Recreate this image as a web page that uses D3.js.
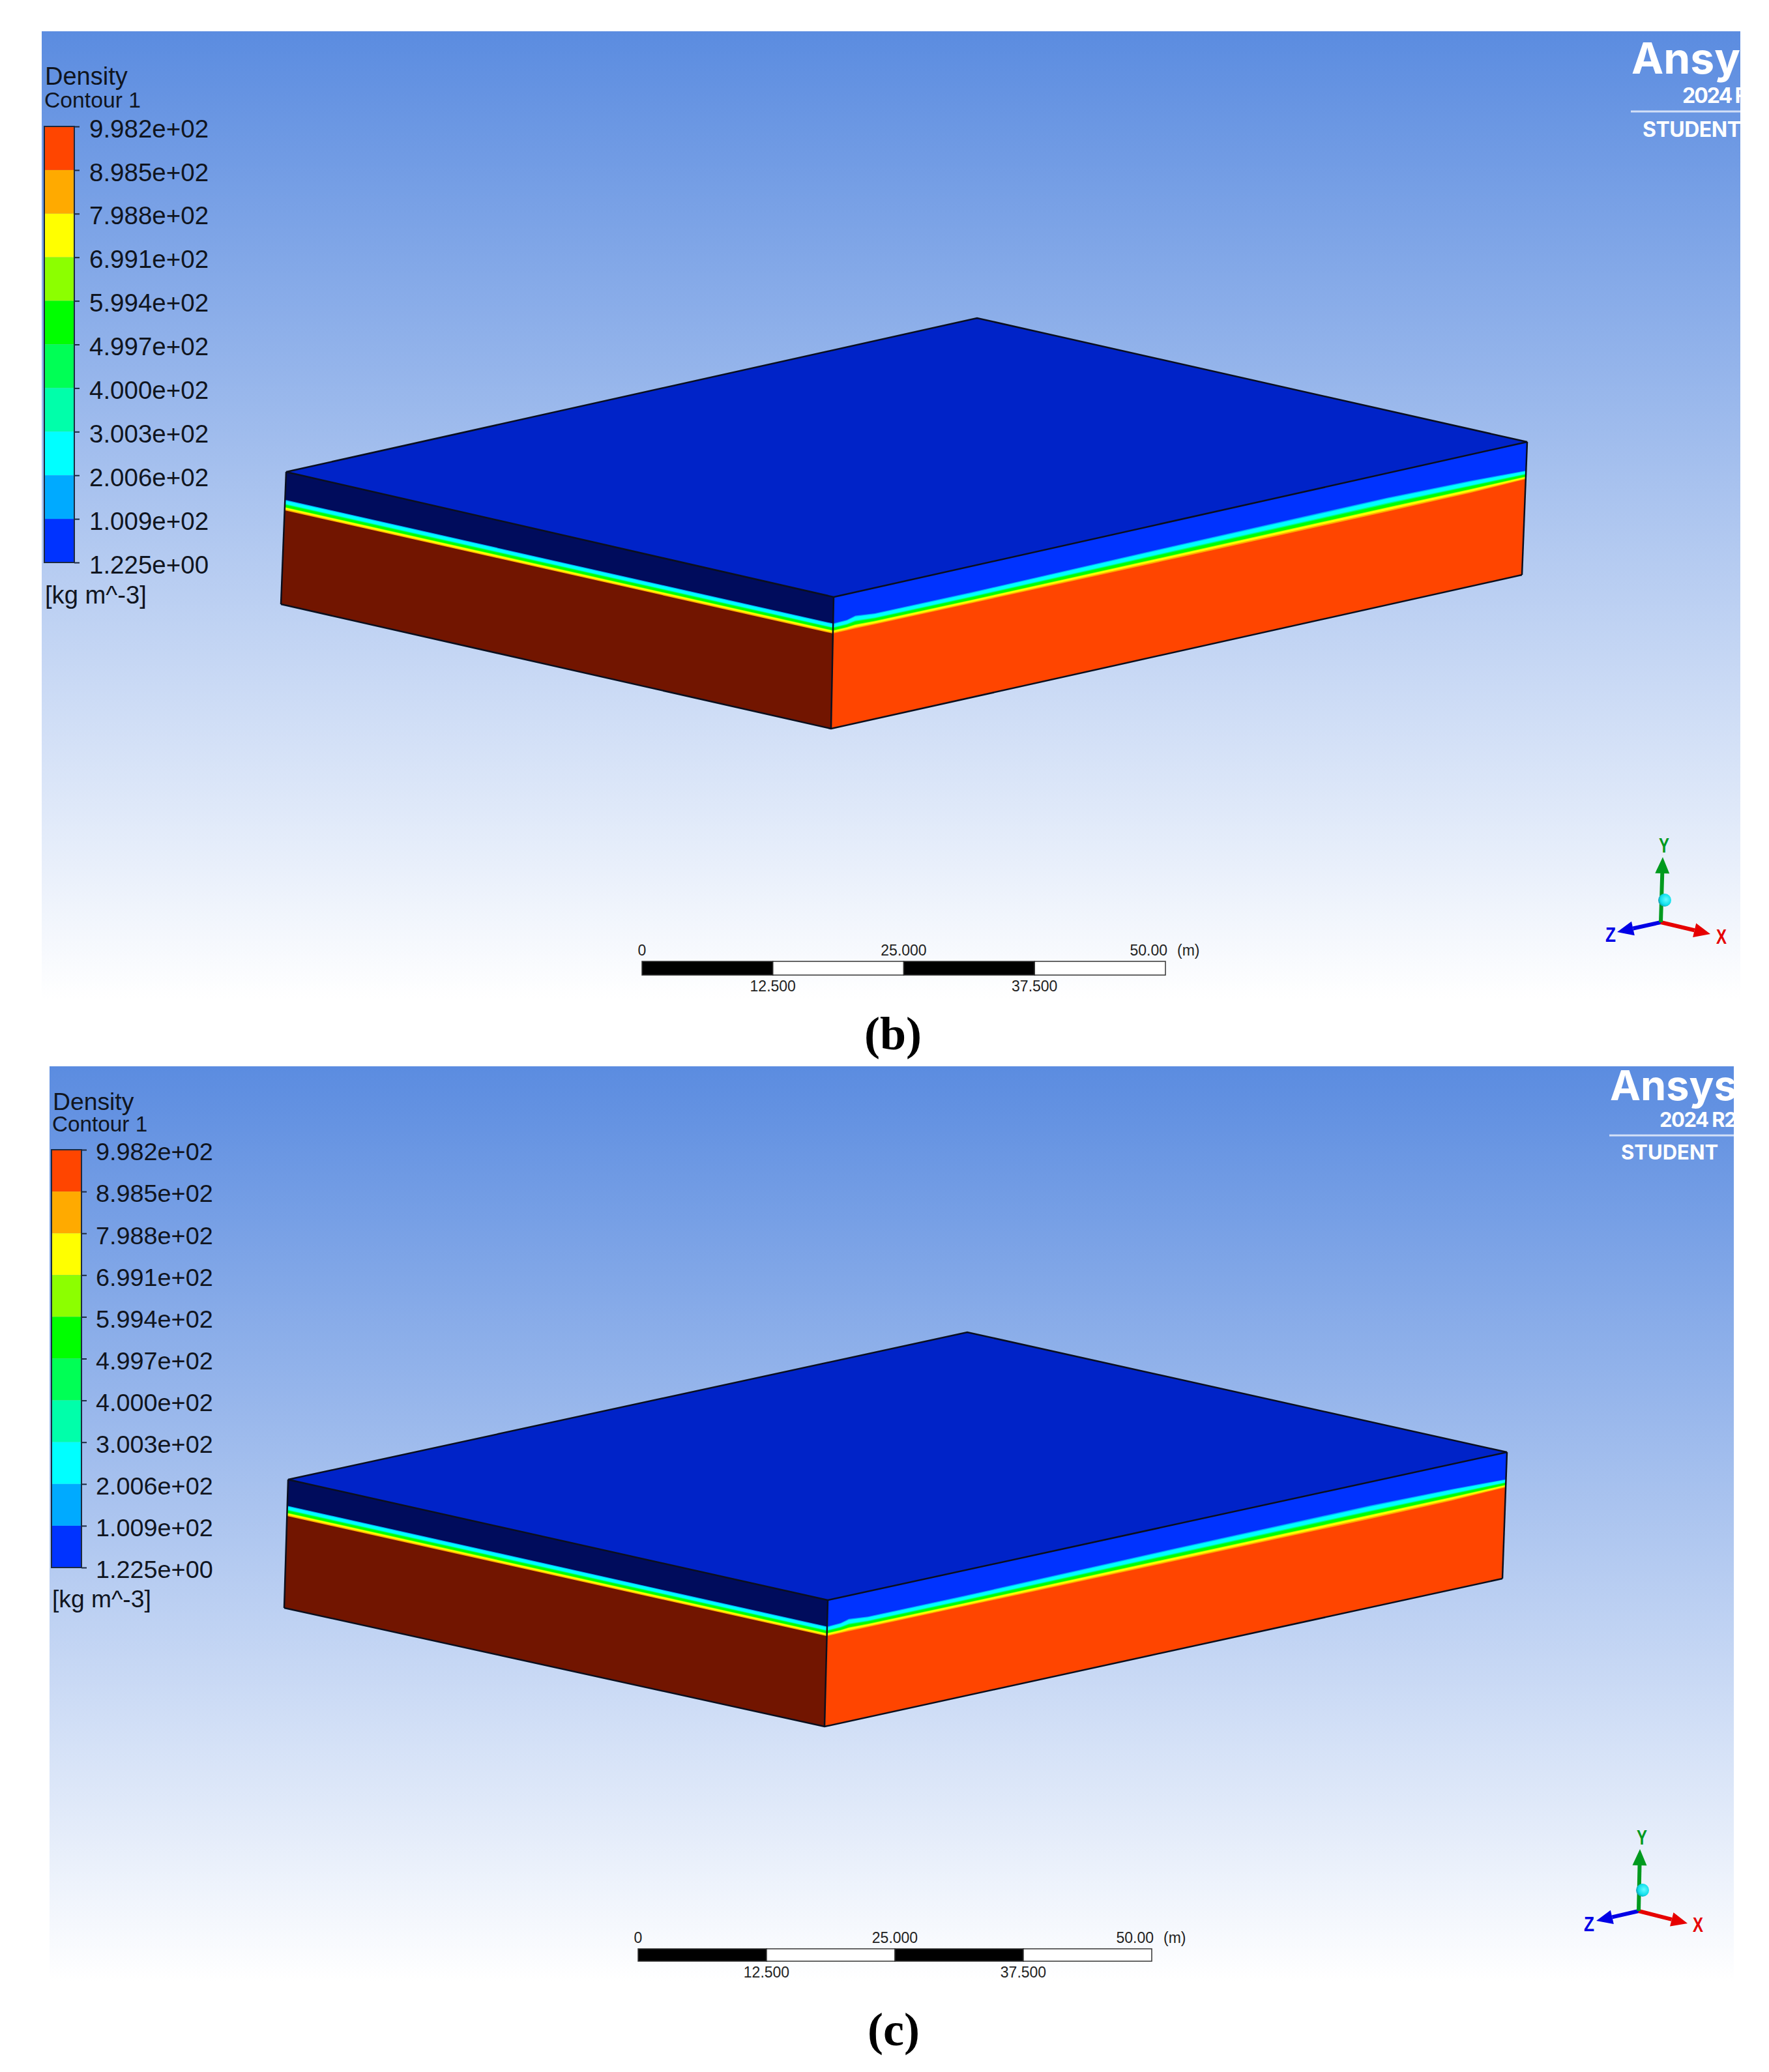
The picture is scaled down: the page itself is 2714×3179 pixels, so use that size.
<!DOCTYPE html>
<html>
<head>
<meta charset="utf-8">
<script src="https://cdn.jsdelivr.net/npm/d3@7"></script>
<style>
  html, body { margin: 0; padding: 0; background: #fff; }
  svg { display: block; }
  text { font-family: "Liberation Sans", Arial, sans-serif; }
</style>
</head>
<body>
<div id="chart"></div>
<script>
// Legend values, high to low
const densityLevels = [998.2, 898.5, 798.8, 699.1, 599.4, 499.7, 400.0, 300.3, 200.6, 100.9, 1.225];
const levelLabels = ["9.982e+02", "8.985e+02", "7.988e+02", "6.991e+02", "5.994e+02", "4.997e+02",
    "4.000e+02", "3.003e+02", "2.006e+02", "1.009e+02", "1.225e+00"];
const bandColors = ["#ff4500", "#ffaa00", "#ffff00", "#8cff00", "#00ff00", "#00ff55", "#00ffaa", "#00ffff", "#00aaff", "#0033ff"];
const leftBandColors = ["#721500", "#ffaa00", "#ffff00", "#8cff00", "#00ff00", "#00ff55", "#00ffaa", "#00ffff", "#00aaff", "#000c5c"];
const topFaceColor = "#0023c8";

// Scale bar
const scaleTicks = [0, 12.5, 25, 37.5, 50];
const scaleTickLabels = ["0", "12.500", "25.000", "37.500", "50.00"];

// Box size in metres
const boxLength = 100, boxDepth = 100, boxHeight = 10;

// Height above the water surface where each legend level is crossed (898.5 to 100.9)
const levelOffsets = [0, 0.08, 0.20, 0.24, 0.40, 0.44, 0.48, 0.70, 0.76];

// Water surface along the faces: distance from the front corner, height, interface stretch
const rightStations = [0, 2, 3.2, 6, 20, 50, 80, 92, 100];
const rightStretch = [1.0, 1.05, 1.3, 1.1, 1.1, 1.3, 1.4, 1.2, 0.85];
const rightSurfaceB = [7.23, 7.23, 7.23, 7.22, 7.18, 7.12, 7.08, 7.10, 7.20];
const rightSurfaceC = [7.15, 7.16, 7.16, 7.16, 7.14, 7.10, 7.06, 7.10, 7.22];
const leftStations = [0, 100];
const leftStretch = [1.0, 1.05];
const leftSurfaceB = [7.23, 7.09];
const leftSurfaceC = [7.15, 7.16];

const width = 2714, height = 3179;

const svg = d3.select("#chart").append("svg")
    .attr("width", width)
    .attr("height", height);

const defs = svg.append("defs");

const bgGradient = defs.append("linearGradient")
    .attr("id", "bg").attr("x1", 0).attr("x2", 0).attr("y1", 0).attr("y2", 1);
bgGradient.append("stop").attr("offset", "0%").attr("stop-color", "#5b8ce0");
bgGradient.append("stop").attr("offset", "100%").attr("stop-color", "#ffffff");

const ballGradient = defs.append("radialGradient")
    .attr("id", "ball").attr("cx", "60%").attr("cy", "45%").attr("r", "65%");
ballGradient.append("stop").attr("offset", "0%").attr("stop-color", "#66fbff");
ballGradient.append("stop").attr("offset", "65%").attr("stop-color", "#10e0ec");
ballGradient.append("stop").attr("offset", "100%").attr("stop-color", "#0f8a9c");

const panels = [
    {
        id: "b", rect: [64, 48, 2670, 1533],
        corners: { front: [1279, 916, 1275, 1118], right: [2343, 678, 2335, 882], left: [439, 724, 431, 927], back: [1499, 488] },
        rightSurface: rightSurfaceB, leftSurface: leftSurfaceB,
        legend: { x0: 68, x1: 114, y0: 194, y1: 863, fs: 38.5, pad: 15, title: [69, 130, 38], sub: [68, 165, 33.7], unit: [69, 926, 38.2] },
        logo: { ansys: [2503, 113, 66], release: [2581, 158, 32, -2, "2024 R2"], line: [2502, 171], student: [2520, 210, 32, -0.5] },
        bar: { x0: 985, x1: 1788, y0: 1475, y1: 1496, topY: 1466, botY: 1521, unitX: 1806 },
        caption: ["(b)", 1370, 1610],
        triad: { o: [2548, 1415], x: [76, 18], y: [3, -100], z: [-67, 15], ball: [6, -34], lx: [2641, 1437], ly: [2553, 1297], lz: [2471, 1434] }
    },
    {
        id: "c", rect: [76, 1636, 2660, 3040],
        corners: { front: [1270, 2455, 1265, 2649], right: [2312, 2228, 2305, 2422], left: [442, 2270, 436, 2467], back: [1484, 2044] },
        rightSurface: rightSurfaceC, leftSurface: leftSurfaceC,
        legend: { x0: 79, x1: 125, y0: 1764, y1: 2405, fs: 37.8, pad: 14, title: [81, 1703, 37.3], sub: [80, 1736, 33.3], unit: [80, 2466, 37.2] },
        logo: { ansys: [2470, 1688, 63], release: [2546, 1729, 31, -1.5, "2024 R2"], line: [2469, 1742], student: [2487, 1779, 31, 0] },
        bar: { x0: 979, x1: 1767, y0: 2990, y1: 3009, topY: 2981, botY: 3034, unitX: 1785 },
        caption: ["(c)", 1371, 3138],
        triad: { o: [2514, 2932], x: [75, 19], y: [2, -95], z: [-65, 15], ball: [6, -32], lx: [2605, 2953], ly: [2519, 2819], lz: [2438, 2952] }
    }
];

panels.forEach(function (p) {
    const [bx0, by0, bx1, by1] = p.rect;

    // Background and clip
    svg.append("rect")
        .attr("x", bx0).attr("y", by0)
        .attr("width", bx1 - bx0).attr("height", by1 - by0)
        .attr("fill", "url(#bg)");

    defs.append("clipPath").attr("id", "clip-" + p.id)
        .append("rect")
        .attr("x", bx0).attr("y", by0)
        .attr("width", bx1 - bx0).attr("height", by1 - by0);

    const g = svg.append("g").attr("clip-path", `url(#clip-${p.id})`);

    drawBox(g, p);
    drawLegend(g, p);
    drawLogo(g, p);
    drawScaleBar(g, p);
    drawTriad(g, p);

    // Caption under the panel
    svg.append("text")
        .attr("x", p.caption[1])
        .attr("y", p.caption[2])
        .attr("text-anchor", "middle")
        .style("font-family", '"Liberation Serif", serif')
        .style("font-weight", "bold")
        .style("font-size", "72px")
        .attr("fill", "#000")
        .text(p.caption[0]);
});

// Bilinear projection from box metres to page pixels
function makeProjection(c) {
    const u = d3.scaleLinear().domain([0, boxLength]).range([0, 1]);
    const v = d3.scaleLinear().domain([0, boxDepth]).range([0, 1]);
    const backBottom = [c.left[2] + c.right[2] - c.front[2], c.left[3] + c.right[3] - c.front[3]];

    function mix(a, b, cc, d, s, t) {
        return (a * (1 - s) + b * s) * (1 - t) + (cc * (1 - s) + d * s) * t;
    }

    return function (x, z, y) {
        const s = u(x), t = v(z);
        const topX = mix(c.front[0], c.right[0], c.left[0], c.back[0], s, t);
        const topY = mix(c.front[1], c.right[1], c.left[1], c.back[1], s, t);
        const botX = mix(c.front[2], c.right[2], c.left[2], backBottom[0], s, t);
        const botY = mix(c.front[3], c.right[3], c.left[3], backBottom[1], s, t);
        const hx = d3.scaleLinear().domain([0, boxHeight]).range([botX, topX]);
        const hy = d3.scaleLinear().domain([0, boxHeight]).range([botY, topY]);
        return [hx(y), hy(y)];
    };
}

function drawBox(g, p) {
    const project = makeProjection(p.corners);
    const line = d3.line();

    function face(stations, stretch, surface, colors, toPoint, end) {
        // Painted from the top band down, each band reaching the bottom of the face
        const outerTop = [toPoint(0, boxHeight), toPoint(end, boxHeight), toPoint(end, 0), toPoint(0, 0)];
        g.append("path").attr("d", line(outerTop) + "Z").attr("fill", colors[colors.length - 1]);

        for (let k = levelOffsets.length - 1; k >= 0; k--) {
            const pts = stations.map((s, i) => toPoint(s, surface[i] + levelOffsets[k] * stretch[i]));
            pts.push(toPoint(end, 0), toPoint(0, 0));
            g.append("path").attr("d", line(pts) + "Z").attr("fill", colors[k]);
        }
    }

    face(rightStations, rightStretch, p.rightSurface, bandColors, (s, h) => project(s, 0, h), boxLength);
    face(leftStations, leftStretch, p.leftSurface, leftBandColors, (s, h) => project(0, s, h), boxDepth);

    // Top face
    const topFace = [project(0, 0, boxHeight), project(boxLength, 0, boxHeight), project(boxLength, boxDepth, boxHeight), project(0, boxDepth, boxHeight)];
    g.append("path").attr("d", line(topFace) + "Z")
        .attr("fill", topFaceColor)
        .attr("stroke", "#0a0f1e").attr("stroke-width", 2.5);

    // Outline of the solid
    const edges = [
        [project(0, 0, boxHeight), project(0, 0, 0)],
        [project(boxLength, 0, boxHeight), project(boxLength, 0, 0)],
        [project(0, boxDepth, boxHeight), project(0, boxDepth, 0)],
        [project(0, boxDepth, 0), project(0, 0, 0), project(boxLength, 0, 0)]
    ];
    edges.forEach(function (e) {
        g.append("path").attr("d", line(e))
            .attr("fill", "none")
            .attr("stroke", "#0a0f1e").attr("stroke-width", 2.5);
    });
}

function drawLegend(g, p) {
    const l = p.legend;
    const yScale = d3.scaleLinear()
        .domain([densityLevels[densityLevels.length - 1], densityLevels[0]])
        .range([l.y1, l.y0]);

    bandColors.forEach(function (c, i) {
        g.append("rect")
            .attr("x", l.x0)
            .attr("y", yScale(densityLevels[i]))
            .attr("width", l.x1 - l.x0)
            .attr("height", yScale(densityLevels[i + 1]) - yScale(densityLevels[i]))
            .attr("fill", c);
    });

    g.append("rect")
        .attr("x", l.x0).attr("y", l.y0)
        .attr("width", l.x1 - l.x0).attr("height", l.y1 - l.y0)
        .attr("fill", "none")
        .attr("stroke", "#1c2a40").attr("stroke-width", 2);

    const axis = g.append("g")
        .attr("transform", `translate(${l.x1},0)`)
        .call(d3.axisRight(yScale)
            .tickValues(densityLevels)
            .tickFormat((d, i) => levelLabels[i])
            .tickSize(8)
            .tickPadding(l.pad));

    axis.select(".domain").remove();
    axis.selectAll("line").attr("stroke", "#1c2a40").attr("stroke-width", 2);
    axis.selectAll("text")
        .attr("dy", "0.42em")
        .attr("fill", "#10151f")
        .style("font-family", '"Liberation Sans", Arial, sans-serif')
        .style("font-size", l.fs + "px");

    const texts = [[l.title, "Density"], [l.sub, "Contour 1"], [l.unit, "[kg m^-3]"]];
    texts.forEach(function (t) {
        g.append("text")
            .attr("x", t[0][0]).attr("y", t[0][1])
            .attr("fill", "#10151f")
            .style("font-size", t[0][2] + "px")
            .text(t[1]);
    });
}

function drawLogo(g, p) {
    const logo = p.logo;
    function logoText(x, y, size, str, spacing) {
        g.append("text")
            .attr("x", x).attr("y", y)
            .attr("fill", "#fff")
            .style("font-family", 'Inter, "Open Sans", sans-serif')
            .style("font-weight", 700)
            .style("font-size", size + "px")
            .style("letter-spacing", spacing + "px")
            .text(str);
    }
    logoText(logo.ansys[0], logo.ansys[1], logo.ansys[2], "Ansys", 0);
    logoText(logo.release[0], logo.release[1], logo.release[2], logo.release[4], logo.release[3]);
    logoText(logo.student[0], logo.student[1], logo.student[2], "STUDENT", logo.student[3]);

    g.append("line")
        .attr("x1", logo.line[0]).attr("x2", p.rect[2])
        .attr("y1", logo.line[1]).attr("y2", logo.line[1])
        .attr("stroke", "#d3e0f7").attr("stroke-width", 3);
}

function drawScaleBar(g, p) {
    const b = p.bar;
    const xScale = d3.scaleLinear()
        .domain([scaleTicks[0], scaleTicks[scaleTicks.length - 1]])
        .range([b.x0, b.x1]);

    d3.pairs(scaleTicks).forEach(function (pair, i) {
        g.append("rect")
            .attr("x", xScale(pair[0]))
            .attr("y", b.y0)
            .attr("width", xScale(pair[1]) - xScale(pair[0]))
            .attr("height", b.y1 - b.y0)
            .attr("fill", i % 2 === 0 ? "#000" : "#fff")
            .attr("stroke", "#333")
            .attr("stroke-width", 1.5);
    });

    scaleTicks.forEach(function (t, i) {
        const isLast = i === scaleTicks.length - 1;
        g.append("text")
            .attr("x", isLast ? xScale(t) + 3 : xScale(t))
            .attr("y", i % 2 === 0 ? b.topY : b.botY)
            .attr("text-anchor", isLast ? "end" : "middle")
            .attr("fill", "#222")
            .style("font-size", "23px")
            .text(scaleTickLabels[i]);
    });

    g.append("text")
        .attr("x", b.unitX).attr("y", b.topY)
        .attr("fill", "#222")
        .style("font-size", "23px")
        .text("(m)");
}

function drawTriad(g, p) {
    const t = p.triad;
    const group = g.append("g").attr("transform", `translate(${t.o[0]},${t.o[1]})`);

    const arrows = [
        { v: t.z, color: "#0000e6", label: "Z", pos: t.lz },
        { v: t.x, color: "#e60000", label: "X", pos: t.lx },
        { v: t.y, color: "#009a1e", label: "Y", pos: t.ly }
    ];

    arrows.forEach(function (a) {
        const len = Math.hypot(a.v[0], a.v[1]);
        const ux = a.v[0] / len, uy = a.v[1] / len;
        const headBase = [a.v[0] - ux * 25, a.v[1] - uy * 25];

        group.append("line")
            .attr("x1", 0).attr("y1", 0)
            .attr("x2", headBase[0]).attr("y2", headBase[1])
            .attr("stroke", a.color).attr("stroke-width", 6);

        group.append("path")
            .attr("d", d3.line()([
                a.v,
                [headBase[0] - uy * 11, headBase[1] + ux * 11],
                [headBase[0] + uy * 11, headBase[1] - ux * 11]
            ]) + "Z")
            .attr("fill", a.color);

        g.append("text")
            .attr("x", a.pos[0]).attr("y", a.pos[1] + 11)
            .attr("text-anchor", "middle")
            .attr("textLength", 16)
            .attr("lengthAdjust", "spacingAndGlyphs")
            .attr("fill", a.color)
            .style("font-size", "31px")
            .style("font-weight", "bold")
            .text(a.label);
    });

    group.append("circle")
        .attr("cx", t.ball[0]).attr("cy", t.ball[1])
        .attr("r", 10)
        .attr("fill", "url(#ball)");
}
</script>
</body>
</html>
